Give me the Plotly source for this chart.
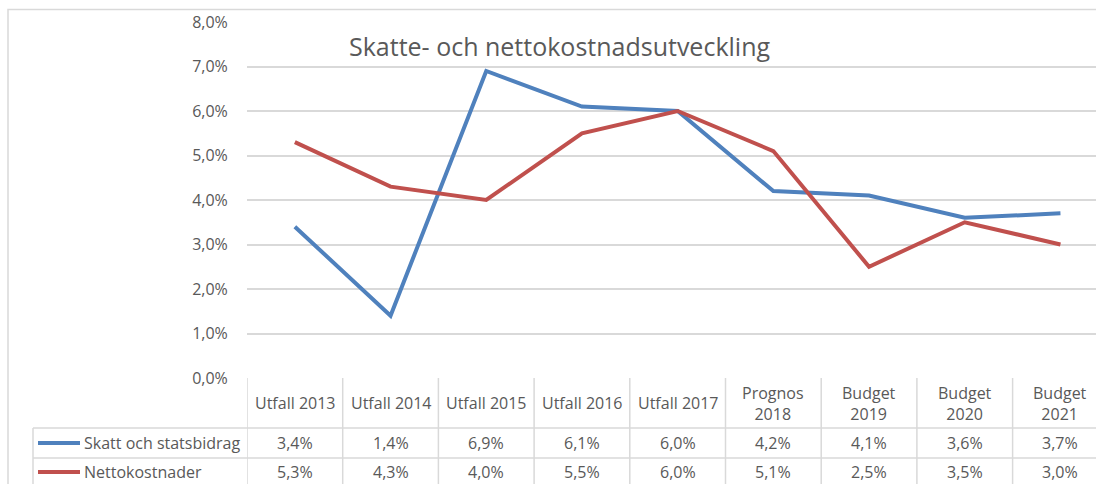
import plotly.graph_objects as go

categories = ["Utfall 2013", "Utfall 2014", "Utfall 2015", "Utfall 2016", "Utfall 2017",
              "Prognos<br>2018", "Budget<br>2019", "Budget<br>2020", "Budget<br>2021"]
skatt = [3.4, 1.4, 6.9, 6.1, 6.0, 4.2, 4.1, 3.6, 3.7]
netto = [5.3, 4.3, 4.0, 5.5, 6.0, 5.1, 2.5, 3.5, 3.0]
series_names = ["Skatt och statsbidrag", "Nettokostnader"]
y_tickvals = [0, 1, 2, 3, 4, 5, 6, 7, 8]
y_ticktext = ["0,0%", "1,0%", "2,0%", "3,0%", "4,0%", "5,0%", "6,0%", "7,0%", "8,0%"]

BLUE = "#4F81BD"
RED = "#C0504D"
GRID = "#D9D9D9"
TXT = "#595959"
FONT = "Open Sans"
FS = 16

OFF = 0  # page body margin removed via post_script
W, H = 1096 - OFF, 484 - OFF
L, T = 247 - OFF, 22 - OFF
B = H - (378 - OFF)
PW = W - L
PH = H - T - B
COL = 95.7


def pxx(p):
    return (p - OFF - L) / PW


def pxy(p):
    return (378 - p) / PH


fig = go.Figure()
xs = list(range(len(categories)))
fig.add_trace(go.Scatter(x=xs, y=skatt, mode="lines", name=series_names[0],
                         line=dict(color=BLUE, width=4)))
fig.add_trace(go.Scatter(x=xs, y=netto, mode="lines", name=series_names[1],
                         line=dict(color=RED, width=4)))

shapes = []
annotations = []
ytop_tab = pxy(378)
y_r1 = pxy(428)
y_r2 = pxy(458)
y_bot = pxy(495)
for i in range(len(categories) + 1):
    shapes.append(dict(type="line", xref="x", yref="paper", x0=i - 0.5, x1=i - 0.5,
                       y0=ytop_tab, y1=y_bot, line=dict(color=GRID, width=1.5), layer="below"))
shapes.append(dict(type="line", xref="paper", yref="paper", x0=pxx(33), x1=pxx(33),
                   y0=y_r1, y1=y_bot, line=dict(color=GRID, width=1.5)))
for yy in (y_r1, y_r2):
    shapes.append(dict(type="line", xref="paper", yref="paper", x0=pxx(33), x1=1.05,
                       y0=yy, y1=yy, line=dict(color=GRID, width=1.5)))
shapes.append(dict(type="rect", xref="paper", yref="paper", x0=pxx(8), x1=1.05,
                   y0=pxy(500), y1=pxy(9.5), line=dict(color=GRID, width=1.5)))
for name, col, yy in ((series_names[0], BLUE, 443), (series_names[1], RED, 472)):
    shapes.append(dict(type="line", xref="paper", yref="paper", x0=pxx(38), x1=pxx(80),
                       y0=pxy(yy), y1=pxy(yy), line=dict(color=col, width=4)))
    annotations.append(dict(xref="paper", yref="paper", x=pxx(82), y=pxy(yy), text=name,
                            showarrow=False, xanchor="left", yanchor="middle",
                            font=dict(family=FONT, size=FS, color=TXT)))

for i, c in enumerate(categories):
    annotations.append(dict(xref="x", yref="paper", x=i, y=pxy(403), text=c, showarrow=False,
                            xanchor="center", yanchor="middle",
                            font=dict(family=FONT, size=FS, color=TXT)))
    for vals, yy in ((skatt, 443), (netto, 472)):
        annotations.append(dict(xref="x", yref="paper", x=i, y=pxy(yy),
                                text=f"{vals[i]:.1f}%".replace(".", ","), showarrow=False,
                                xanchor="center", yanchor="middle",
                                font=dict(family=FONT, size=FS, color=TXT)))

annotations.append(dict(xref="paper", yref="paper", x=pxx(559), y=pxy(46),
                        text="Skatte- och nettokostnadsutveckling", showarrow=False,
                        xanchor="center", yanchor="middle",
                        font=dict(family=FONT, size=25, color=TXT)))

r_end = PW / COL - 0.5
fig.update_layout(
    width=W, height=H,
    margin=dict(l=L, r=0, t=T, b=B, pad=0),
    paper_bgcolor="white", plot_bgcolor="white",
    showlegend=False,
    shapes=shapes, annotations=annotations,
    xaxis=dict(range=[-0.5, r_end], showgrid=False, zeroline=False, showticklabels=False,
               showline=False, fixedrange=True),
    yaxis=dict(range=[0, 8], tickvals=y_tickvals, ticktext=y_ticktext, showgrid=True,
               gridcolor=GRID, gridwidth=1.5, zeroline=False, showline=False,
               ticks="outside", ticklen=15, tickcolor="rgba(0,0,0,0)",
               tickfont=dict(family=FONT, size=FS, color=TXT), fixedrange=True),
)

fig.write_html("out.html", config={"displayModeBar": False},
               post_script="document.body.style.margin='0';document.body.style.overflow='hidden';")
